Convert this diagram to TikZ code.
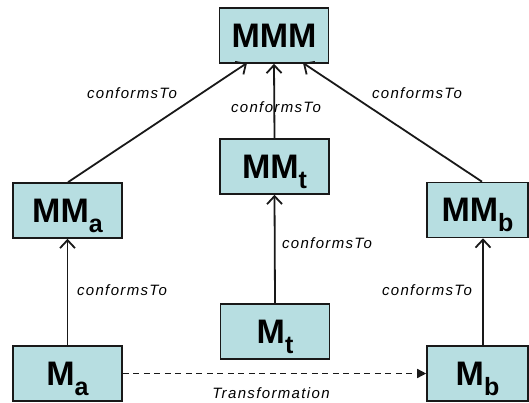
\documentclass[tikz,border=0pt]{standalone}
\usepackage{fontspec}
\setmainfont{Liberation Sans}
\usetikzlibrary{arrows.meta}
\definecolor{boxfill}{RGB}{183,222,225}
\definecolor{edge}{RGB}{25,25,25}
\newcommand{\bigtxt}[2]{{\fontsize{34}{34}\selectfont\bfseries #1\raisebox{-10pt}{\fontsize{25}{25}\selectfont #2}}}
\newcommand{\lbltxt}[1]{{\fontsize{15}{15}\selectfont\itshape\addfontfeature{LetterSpace=9}#1}}
\tikzset{
  mbox/.style={draw=edge, line width=1.6pt, fill=boxfill, minimum width=109pt, minimum height=55pt,
    text height=23pt, text depth=0pt, inner sep=0pt},
  conf/.style={draw=edge, line width=1.8pt, -{Straight Barb[length=8pt,width=15pt,line width=1.8pt]}},
  trans/.style={draw=edge, line width=1.5pt, dash pattern=on 6pt off 4.5pt, -{Triangle[length=9pt,width=9pt]}},
  lbl/.style={inner sep=0pt, text=black}
}
\begin{document}
\begin{tikzpicture}[x=1pt,y=-1pt]
\useasboundingbox (0,0) rectangle (529,402);
\node[mbox] (MMM) at (274,35.5) {\bigtxt{MMM}{}};
\node[mbox] (MMt) at (274.5,166.5) {\bigtxt{MM}{t}};
\node[mbox] (Mt) at (275,331.5) {\bigtxt{M}{t}};
\node[mbox] (MMa) at (67.5,210.5) {\bigtxt{MM}{a}};
\node[mbox] (Ma) at (67.5,373.5) {\bigtxt{M}{a}};
\node[mbox, minimum width=101pt] (MMb) at (477.5,210) {\bigtxt{MM}{b}};
\node[mbox, minimum width=101pt] (Mb) at (477.5,373.5) {\bigtxt{M}{b}};
\coordinate (tl) at (247,63);
\coordinate (tr) at (303,63);
\draw[conf] ([xshift=0.5pt]MMa.north) -- (tl);
\draw[conf] (MMt.north) -- (MMM.south);
\draw[conf] ([xshift=4.5pt]MMb.north) -- (tr);
\draw[conf] (Mt.north) -- (MMt.south);
\draw[conf] (Ma.north) -- (MMa.south);
\draw[conf] ([xshift=5.5pt]Mb.north) -- ([xshift=5.5pt]MMb.south);
\draw[trans] (Ma.east) -- (Mb.west);
\node[lbl] (l1) at (132,93) {\lbltxt{conformsTo}};
\node[lbl] (l2) at (276,107) {\lbltxt{conformsTo}};
\node[lbl] (l3) at (417,93) {\lbltxt{conformsTo}};
\node[lbl] (l4) at (327,243) {\lbltxt{conformsTo}};
\node[lbl] (l5) at (122,290) {\lbltxt{conformsTo}};
\node[lbl] (l6) at (427,290) {\lbltxt{conformsTo}};
\node[lbl] (l7) at (271,393) {\lbltxt{Transformation}};
\end{tikzpicture}
\end{document}
